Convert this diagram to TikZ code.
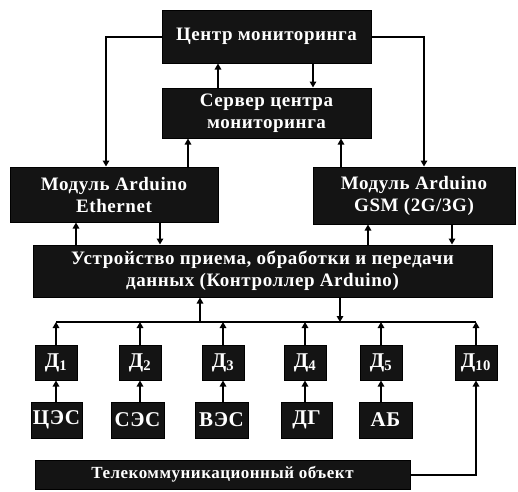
\documentclass[tikz,border=0pt]{standalone}
\usepackage{fontspec}
\setmainfont{Liberation Serif}[LetterSpace=3]
\usetikzlibrary{arrows.meta}
\tikzset{
  blk/.style={draw=black, fill=black!92, text=white, inner sep=0pt, align=center,
    font=\fontsize{19}{22}\selectfont\bfseries, line width=1pt},
  sm/.style={font=\fontsize{21}{22}\selectfont\bfseries},
  arr/.style={line width=2pt, -{Triangle[length=6pt,width=6.5pt]}},
  ln/.style={line width=2pt}
}
\begin{document}
\begin{tikzpicture}[x=1pt,y=-1pt]
\useasboundingbox (0,0) rectangle (518,491);
\node[blk, minimum width=209, minimum height=53] (cen) at (266.5,36.5) {Центр мониторинга};
\node[blk, minimum width=209, minimum height=50] (srv) at (266.5,113) {Сервер центра\\мониторинга};
\node[blk, minimum width=208, minimum height=55] (eth) at (114,194.5) {Модуль Arduino\\Ethernet};
\node[blk, minimum width=202, minimum height=57] (gsm) at (414,195.5) {Модуль Arduino\\GSM (2G/3G)};
\node[blk, minimum width=459, minimum height=52] (ctl) at (262.5,271) {Устройство приема, обработки и передачи\\данных (Контроллер Arduino)};
\foreach \n/\x/\l in {1/56/1,2/140/2,3/223/3,4/305/4,5/381/5,6/476/10}
  \node[blk, sm, minimum width=42, minimum height=35] (d\n) at (\x,362.5) {Д\textsubscript{\l}};
\node[blk, sm, minimum width=51, minimum height=36] (s1) at (56.5,420) {ЦЭС};
\node[blk, sm, minimum width=53, minimum height=36] (s2) at (137.5,420) {СЭС};
\node[blk, sm, minimum width=53, minimum height=36] (s3) at (221.5,420) {ВЭС};
\node[blk, sm, minimum width=51, minimum height=36] (s4) at (306.5,420) {ДГ};
\node[blk, sm, minimum width=53, minimum height=36] (s5) at (385.5,420) {АБ};
\node[blk, font=\fontsize{17}{20}\selectfont\bfseries, minimum width=375, minimum height=29] (tel) at (222.5,474.5) {Телекоммуникационный объект};
\coordinate (bus) at (0,322);
% top level
\draw[arr] (cen.west) -| ([xshift=-8]eth.north);
\draw[arr] (cen.east) -| ([xshift=10]gsm.north);
\draw[arr] ([xshift=-48.5]srv.north) -- ([xshift=-48.5]cen.south);
\draw[arr] ([xshift=46.5]cen.south) -- ([xshift=46.5]srv.north);
\draw[arr] ([xshift=74]eth.north) -- ([xshift=74]eth.north |- srv.south);
\draw[arr] ([xshift=-73]gsm.north) -- ([xshift=-73]gsm.north |- srv.south);
% modules - controller
\draw[arr] ([xshift=-38]eth.south |- ctl.north) -- ([xshift=-38]eth.south);
\draw[arr] ([xshift=46]eth.south) -- ([xshift=46]eth.south |- ctl.north);
\draw[arr] ([xshift=-46]gsm.south |- ctl.north) -- ([xshift=-46]gsm.south);
\draw[arr] ([xshift=38]gsm.south) -- ([xshift=38]gsm.south |- ctl.north);
% bus
\draw[ln] (d1.north |- bus) -- (d6.north |- bus);
\draw[arr] ([xshift=-62.5]ctl.south |- bus) -- ([xshift=-62.5]ctl.south);
\draw[arr] ([xshift=77.5]ctl.south) -- ([xshift=77.5]ctl.south |- bus);
\foreach \n in {1,...,6}
  \draw[arr] (d\n.north) -- (d\n.north |- bus);
\foreach \n in {1,...,5}
  \draw[arr] (s\n.north -| d\n) -- (d\n.south);
\draw[arr] (tel.east) -| (d6.south);
\end{tikzpicture}
\end{document}
